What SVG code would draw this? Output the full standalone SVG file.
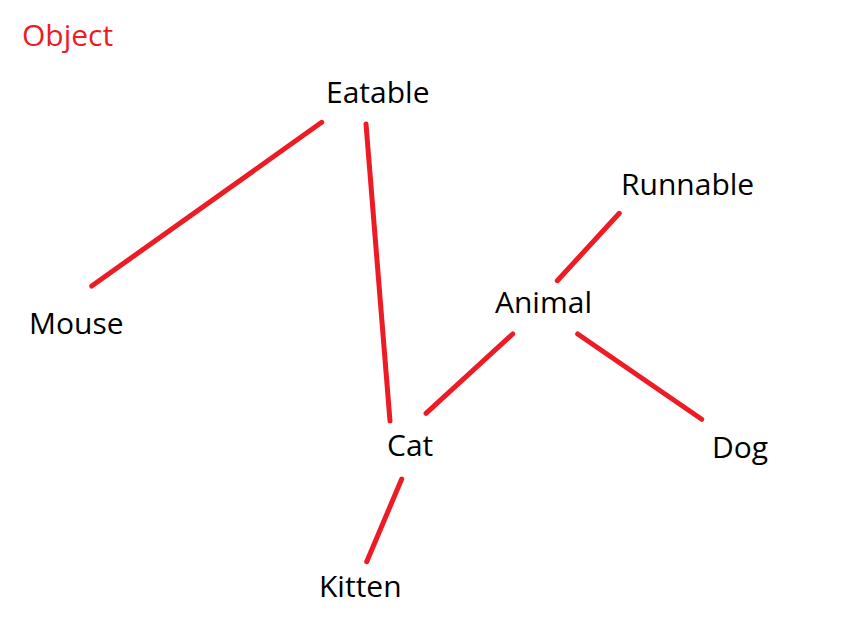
<svg xmlns="http://www.w3.org/2000/svg" width="861" height="635" viewBox="0 0 861 635">
<style>
text{font-family:"Open Sans","Noto Sans","Liberation Sans",sans-serif;font-size:30px;fill:#000}
.red{fill:#ED1C24}
line{stroke:#ED1C24;stroke-width:5;stroke-linecap:round}
</style>
<rect width="861" height="635" fill="#fff"/>
<g id="connectors">
<line x1="321.7" y1="122.3" x2="91.7" y2="286"/>
<line x1="366" y1="124" x2="390" y2="421"/>
<line x1="619.3" y1="213.3" x2="557.3" y2="280.7"/>
<line x1="512.7" y1="334" x2="426" y2="413.3"/>
<line x1="577.7" y1="334" x2="701.7" y2="419.3"/>
<line x1="401.7" y1="479" x2="366.7" y2="561.7"/>
</g>
<g id="object"><text class="red" x="22" y="46">Object</text></g>
<g id="eatable"><text x="326" y="103">Eatable</text></g>
<g id="mouse"><text x="29" y="334">Mouse</text></g>
<g id="runnable"><text x="621" y="195">Runnable</text></g>
<g id="animal"><text x="495" y="313">Animal</text></g>
<g id="cat"><text x="387" y="456">Cat</text></g>
<g id="dog"><text x="712" y="458">Dog</text></g>
<g id="kitten"><text x="319" y="597">Kitten</text></g>
</svg>
